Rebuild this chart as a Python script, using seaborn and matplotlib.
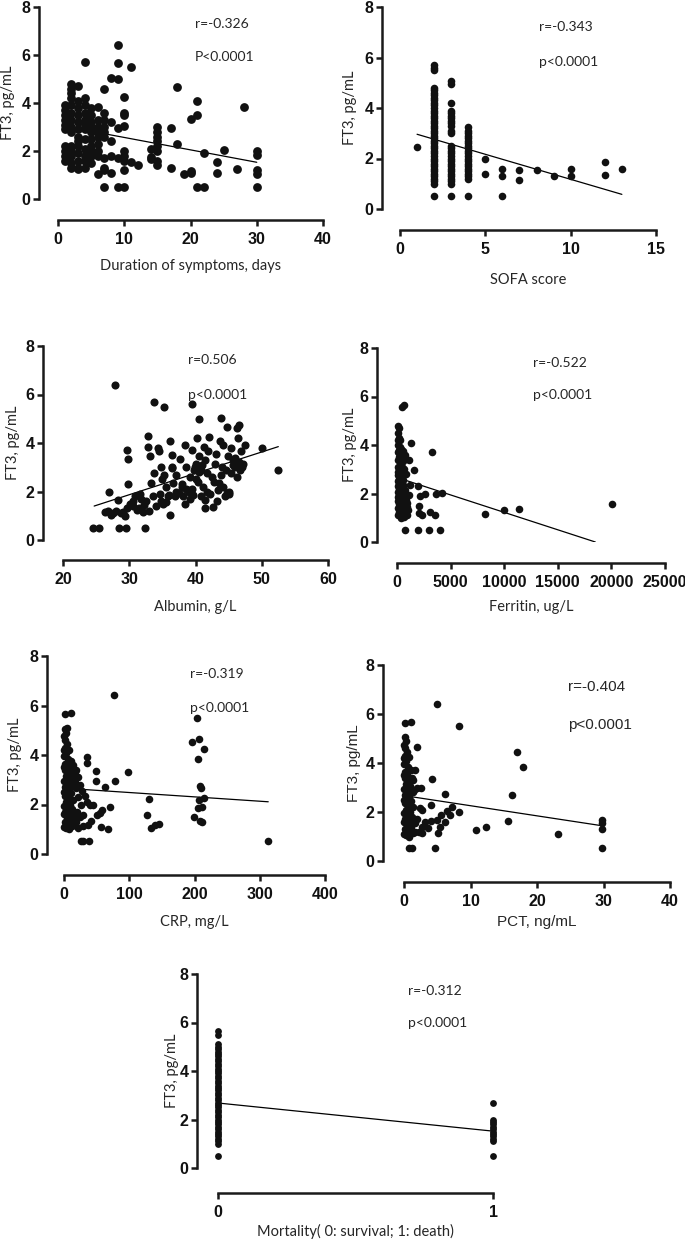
import matplotlib.pyplot as plt
import seaborn as sns

sns.set_style('ticks')
plt.rcParams['font.family'] = ['Lato', 'DejaVu Sans']

# ---------------- data ----------------
# Duration of symptoms (days) -> FT3 values at each day
dur_days = [1, 2, 3, 4, 5, 6, 7, 8, 9, 10, 11, 12, 14, 15, 17, 18, 19, 20, 21, 22, 24, 25, 27, 28, 30]
dur_ft3 = [
    [3.9, 3.7, 3.5, 3.3, 3.1, 2.9, 2.2, 2.0, 1.8, 1.6],
    [4.8, 4.6, 4.4, 4.2, 3.9, 3.6, 3.3, 3.0, 2.8, 2.2, 2.0, 1.8, 1.5, 1.3],
    [4.7, 4.1, 3.8, 3.5, 3.2, 2.9, 2.6, 2.4, 2.2, 1.9, 1.6, 1.3, 1.25],
    [5.7, 4.2, 3.9, 3.6, 3.3, 3.1, 2.9, 2.5, 2.1, 1.8, 1.6, 1.3],
    [3.8, 3.5, 3.2, 3.0, 2.8, 2.5, 2.2, 2.0, 1.8, 1.5],
    [3.85, 3.3, 3.0, 2.8, 2.6, 2.3, 2.0, 1.8, 1.05],
    [4.6, 3.6, 3.3, 3.0, 2.8, 2.6, 1.7, 1.3, 1.2, 0.5],
    [5.05, 3.2, 2.4, 1.8, 1.1],
    [6.4, 5.65, 5.0, 2.95, 1.7, 0.5],
    [4.25, 3.6, 3.5, 3.05, 2.0, 1.8, 1.6, 1.2, 0.5],
    [5.5, 1.55],
    [1.4],
    [2.1, 1.75, 1.65],
    [3.0, 2.8, 2.6, 2.4, 2.2, 2.0, 1.6, 1.4],
    [2.95, 1.3],
    [4.65, 2.3],
    [1.05],
    [3.35, 1.15, 1.1],
    [4.1, 3.5, 0.5],
    [1.9, 0.5],
    [1.55, 1.1],
    [2.05],
    [1.25],
    [3.85],
    [2.0, 1.85, 1.2, 1.05, 0.5],
]
dur_fit_x = [1, 30]
dur_fit_y = [3.03, 1.53]

# SOFA score -> FT3 values at each score
sofa_scores = [1, 2, 3, 4, 5, 6, 7, 8, 9, 10, 12, 13]
sofa_ft3 = [
    [2.45],
    [5.7, 5.6, 5.5, 4.8, 4.7, 4.6, 4.5, 4.4, 4.3, 4.2, 4.1, 4.0, 3.9, 3.8, 3.7, 3.6, 3.5, 3.4, 3.3,
     3.2, 3.1, 3.0, 2.9, 2.8, 2.7, 2.6, 2.5, 2.4, 2.3, 2.2, 2.1, 2.0, 1.9, 1.8, 1.7, 1.6, 1.5,
     1.4, 1.3, 1.2, 1.1, 1.0, 0.5],
    [5.05, 4.95, 4.2, 3.9, 3.8, 3.7, 3.6, 3.5, 3.4, 3.3, 3.1, 3.0, 2.5, 2.4, 2.3, 2.2, 2.1, 2.0,
     1.9, 1.8, 1.7, 1.6, 1.5, 1.4, 1.3, 1.2, 1.1, 1.0, 0.5],
    [3.25, 3.1, 3.0, 2.9, 2.8, 2.7, 2.6, 2.5, 2.4, 2.3, 2.2, 2.1, 2.0, 1.9, 1.8, 1.7, 1.6, 1.5,
     1.4, 1.3, 1.2, 0.5],
    [2.0, 1.4],
    [1.6, 1.3, 0.5],
    [1.55, 1.15],
    [1.55],
    [1.3],
    [1.6, 1.3],
    [1.85, 1.35],
    [1.6],
]
sofa_fit_x = [1, 13]
sofa_fit_y = [2.96, 0.58]

# Albumin (g/L) vs FT3
alb_x = [24.5, 25.5, 27.0, 27.8, 26.3, 26.8, 27.5, 28.3, 28.5, 29.5, 29.7, 29.8, 29.8, 29.0, 30.1,
         30.6, 31.1, 31.6, 32.1, 32.4, 32.6, 32.8, 32.9, 33.1, 33.3, 33.6, 33.8, 33.8, 34.1, 34.3,
         34.5, 34.6, 34.8, 35.1, 35.3, 35.3, 35.6, 35.8, 36.1, 36.2, 36.4, 36.4, 36.6, 36.9, 37.1,
         37.6, 37.9, 38.1, 38.4, 38.4, 38.6, 38.9, 39.1, 39.4, 39.4, 39.6, 39.9, 40.1, 40.2, 40.4,
         40.5, 40.6, 40.8, 40.9, 41.1, 41.3, 41.4, 41.5, 41.7, 41.9, 42.1, 42.2, 42.5, 42.6, 42.9,
         43.1, 43.4, 43.5, 43.7, 43.9, 44.0, 44.2, 44.4, 44.7, 44.9, 45.1, 45.3, 45.4, 45.7, 45.9,
         46.2, 46.4, 46.6, 46.7, 46.9, 47.2, 47.4, 50.1, 52.5,
         39.0, 39.5, 40.0, 40.5, 41.0, 41.5, 40.2, 39.8, 38.5, 37.5, 37.0, 38.0, 39.2, 41.8, 42.8,
         43.8, 44.6, 45.6, 46.3, 44.2, 45.0, 46.0, 47.0, 46.5, 43.2, 44.8, 30.5, 31.5, 28.8, 29.4,
         27.2, 28.0, 31.8, 32.2, 33.0, 34.8, 35.6, 36.0, 35.0, 36.5, 30.8, 29.6]
alb_ft3 = [0.5, 0.5, 2.0, 6.4, 1.15, 1.2, 1.1, 1.65, 0.5, 0.5, 3.7, 3.35, 2.3, 1.15, 1.5,
           1.4, 1.25, 1.9, 1.15, 0.5, 1.6, 3.85, 4.3, 3.45, 2.35, 1.8, 2.75, 5.7, 1.4, 3.8,
           3.65, 1.9, 3.0, 1.5, 5.5, 2.7, 2.2, 1.8, 1.05, 4.1, 3.0, 3.5, 2.35, 1.8, 2.7,
           3.35, 2.2, 1.8, 3.9, 1.5, 3.0, 2.05, 2.6, 5.6, 3.7, 1.85, 3.0, 3.15, 4.2, 2.4,
           5.0, 3.45, 1.8, 2.9, 2.2, 3.85, 1.65, 1.3, 2.75, 3.65, 4.25, 1.9, 2.6, 1.35, 3.15,
           3.55, 2.05, 2.35, 4.1, 5.05, 3.0, 3.9, 1.8, 4.65, 3.45, 1.9, 2.75, 3.8, 3.3, 3.0,
           4.6, 4.2, 4.75, 2.9, 3.65, 3.15, 3.9, 3.8, 2.9,
           2.0, 2.1, 2.5, 2.8, 3.1, 3.3, 3.0, 2.9, 2.1, 1.95, 2.0, 2.3, 1.7, 2.0, 2.4,
           2.7, 2.9, 3.1, 2.6, 2.2, 2.0, 3.4, 3.0, 3.2, 1.6, 1.95, 1.6, 1.3, 1.1, 1.0,
           1.05, 1.2, 1.7, 1.45, 1.2, 1.6, 1.55, 1.85, 2.5, 2.95, 1.8, 1.3]
alb_fit_x = [24.7, 52.5]
alb_fit_y = [1.40, 3.85]

# Ferritin (ug/L) vs FT3
fer_x = [80, 150, 60, 200, 120, 300, 90, 250, 400, 150, 550, 60, 320, 700, 180, 450, 100, 600, 250,
         380, 80, 500, 200, 650, 130, 350, 800, 60, 270, 480, 170, 600, 90, 330, 220, 520, 60, 400,
         140, 700, 280, 90, 460, 200, 620, 120, 350, 800, 60, 260, 520, 160, 420, 700, 90, 300, 600,
         200, 450, 850, 120, 650, 350, 950, 1000, 900,
         470, 620, 1300, 1550, 3260, 1150, 1240, 1925, 2020, 2170, 2640, 2080, 2330, 3100, 3570,
         3660, 4190, 780, 1925, 2950, 3975, 8170, 10000, 11400, 20030, 930, 1090]
fer_ft3 = [4.8, 4.7, 4.5, 4.3, 4.2, 4.2, 4.0, 3.9, 3.85, 3.8, 3.75, 3.7, 3.6, 3.6, 3.5, 3.45, 3.4,
           3.35, 3.3, 3.2, 3.1, 3.1, 3.0, 3.0, 2.9, 2.85, 2.8, 2.75, 2.7, 2.65, 2.6, 2.55, 2.5,
           2.45, 2.4, 2.35, 2.3, 2.25, 2.2, 2.15, 2.1, 2.05, 2.0, 1.95, 1.9, 1.85, 1.8, 1.75, 1.7,
           1.65, 1.6, 1.55, 1.5, 1.45, 1.4, 1.35, 1.3, 1.25, 1.2, 1.15, 1.1, 1.05, 1.0, 1.1, 1.3,
           1.45,
           5.55, 5.65, 4.1, 2.95, 3.7, 3.4, 2.35, 2.3, 1.5, 1.9, 2.0, 1.2, 1.1, 1.25, 1.1,
           2.0, 2.03, 0.5, 0.5, 0.5, 0.5, 1.15, 1.3, 1.35, 1.55, 1.6, 1.95]
fer_fit_x = [0, 18500]
fer_fit_y = [2.66, 0.0]

# CRP (mg/L) vs FT3
crp_x = [1, 3, 0.5, 2, 5, 1, 8, 3, 0.5, 6, 10, 2, 4, 12, 1, 7, 15, 3, 9, 0.5, 5, 13, 2, 8, 4, 11,
         1, 6, 14, 3, 9, 0.5, 5, 12, 2, 7, 16, 4, 10, 1, 6, 13, 3, 8, 18, 20, 22, 17, 19, 21, 24,
         26, 0.5, 0.5, 0.5, 0.5, 0.5,
         1.5, 10.7, 4, 77, 97.6, 78, 63, 70.5, 67, 57, 130, 127, 134, 139.5, 145.6, 195.6, 204,
         207.4, 206, 214.6, 208.4, 210, 207.4, 215, 211, 206, 199.7, 208, 211.5, 313, 26, 29.6,
         38.8, 36, 35, 49, 49, 45, 51, 55, 57.7, 40, 35, 32, 29.6, 29.6, 37, 42, 22, 18, 24.5,
         27, 14, 17, 19]
crp_ft3 = [5.05, 4.9, 4.75, 4.6, 4.45, 4.3, 4.2, 4.1, 3.95, 3.85, 3.75, 3.65, 3.55, 3.5, 3.4, 3.3,
           3.25, 3.15, 3.05, 2.95, 2.85, 2.8, 2.7, 2.6, 2.5, 2.45, 2.35, 2.25, 2.2, 2.1, 2.0,
           1.95, 1.85, 1.8, 1.7, 1.6, 1.55, 1.45, 1.4, 1.3, 1.2, 1.15, 1.05, 1.0, 1.3, 1.7, 2.3,
           2.9, 3.4, 1.05, 1.5, 2.0, 1.6, 2.5, 3.5, 4.2, 1.1,
           5.66, 5.68, 5.08, 6.42, 3.3, 2.96, 2.69, 1.9, 1.03, 1.1, 2.22, 1.56, 1.05, 1.18, 1.22,
           4.54, 5.5, 4.63, 3.83, 4.25, 2.73, 2.66, 2.19, 2.26, 1.88, 1.85, 1.49, 1.34, 1.29,
           0.51, 0.51, 0.51, 0.51, 3.9, 3.67, 3.36, 2.96, 2.0, 1.58, 1.65, 1.78, 2.0, 2.12,
           2.33, 1.59, 1.12, 1.18, 1.34, 3.13, 2.66, 2.8, 2.53, 3.6, 3.33, 3.06]
crp_fit_x = [0, 313]
crp_fit_y = [2.66, 2.11]

# PCT (ng/mL) vs FT3
pct_x = [0.1, 0.3, 0.05, 0.2, 0.5, 0.1, 0.8, 0.3, 0.05, 0.6, 1.0, 0.2, 0.4, 1.2, 0.1, 0.7, 1.4,
         0.3, 0.9, 0.05, 0.5, 1.3, 0.2, 0.8, 0.4, 1.1, 0.1, 0.6, 1.4, 0.3, 0.9, 0.05, 0.5, 1.2,
         0.2, 0.7, 1.6, 0.4, 1.0, 0.1, 0.6, 1.3, 0.3, 0.8, 0.05, 0.05, 0.05, 0.05, 0.05, 1.6, 1.5,
         0.15, 1.0, 4.9, 8.3, 2.0, 1.65, 4.15, 1.9, 2.55, 6.15, 4.0, 2.4, 2.65, 6.4, 7.2, 8.2,
         5.55, 6.9, 6.15, 4.9, 4.05, 3.15, 1.9, 2.65, 3.65, 5.4, 5.05, 2.3, 2.65, 10.9, 12.4,
         15.6, 17.0, 17.9, 16.2, 23.2, 29.7, 29.8, 29.8, 29.8, 0.75, 1.15, 4.65]
pct_ft3 = [5.05, 4.9, 4.75, 4.6, 4.45, 4.3, 4.25, 4.1, 3.95, 3.85, 3.7, 3.65, 3.55, 3.4, 3.4, 3.3,
           3.3, 3.15, 3.05, 2.95, 2.85, 2.8, 2.7, 2.6, 2.5, 2.45, 2.35, 2.25, 2.2, 2.1, 2.0,
           1.95, 1.85, 1.8, 1.7, 1.6, 1.55, 1.45, 1.4, 1.3, 1.2, 1.15, 1.05, 1.0, 1.1, 1.6, 2.5,
           3.5, 4.2, 1.2, 2.9,
           5.65, 5.69, 6.4, 5.5, 4.67, 3.7, 3.33, 2.97, 2.97, 2.72, 2.29, 2.15, 2.08, 2.05, 2.22,
           2.01, 1.88, 1.88, 1.6, 1.67, 1.65, 1.58, 1.71, 1.4, 1.33, 1.4, 1.13, 1.2, 1.13, 1.27,
           1.37, 1.63, 4.44, 3.85, 2.69, 1.09, 1.67, 1.54, 1.29, 0.54, 0.54, 0.54, 0.54]
pct_fit_x = [0, 30]
pct_fit_y = [2.67, 1.43]

# Mortality (0 survival, 1 death) vs FT3
mort_groups = [0, 1]
mort_ft3 = [
    [0.5, 1.0, 1.1, 1.2, 1.3, 1.4, 1.5, 1.6, 1.7, 1.8, 1.9, 2.0, 2.1, 2.2, 2.3, 2.4, 2.5, 2.6, 2.7,
     2.8, 2.9, 3.0, 3.1, 3.2, 3.3, 3.4, 3.5, 3.6, 3.7, 3.8, 3.9, 4.0, 4.1, 4.2, 4.3, 4.4, 4.5,
     4.6, 4.7, 4.8, 4.9, 5.0, 5.1, 5.5, 5.65],
    [2.7, 2.0, 1.9, 1.8, 1.7, 1.6, 1.5, 1.4, 1.3, 1.2, 1.1, 0.5],
]
mort_fit_x = [0, 1]
mort_fit_y = [2.68, 1.52]

r_texts = ['r=-0.326', 'r=-0.343', 'r=0.506', 'r=-0.522', 'r=-0.319', 'r=-0.404', 'r=-0.312']
p_texts = ['P<0.0001', 'p<0.0001', 'p<0.0001', 'p<0.0001', 'p<0.0001', 'p<0.0001', 'p<0.0001']
x_labels = ['Duration of symptoms, days', 'SOFA score', 'Albumin, g/L', 'Ferritin, ug/L',
            'CRP, mg/L', 'PCT, ng/mL', 'Mortality( 0: survival; 1: death)']
y_label = 'FT3, pg/mL'


def expand(keys, groups):
    xs, ys = [], []
    for k, vals in zip(keys, groups):
        for v in vals:
            xs.append(k)
            ys.append(v)
    return xs, ys


dur_x, dur_y = expand(dur_days, dur_ft3)
sofa_x, sofa_y = expand(sofa_scores, sofa_ft3)
mort_x, mort_y = expand(mort_groups, mort_ft3)

# ---------------- layout (pixel geometry of each panel) ----------------
W, H = 685, 1248
fig = plt.figure(figsize=(W / 100, H / 100), dpi=100)

panels = [
    dict(x=dur_x, y=dur_y, fx=dur_fit_x, fy=dur_fit_y, xlim=(0, 40), xticks=[0, 10, 20, 30, 40],
         xpx=(58, 323), ypx=(7, 199), lsp=39, bsp=220, s=40, xl_top=259, yl_right=15, txt=(195, 24, 57)),
    dict(x=sofa_x, y=sofa_y, fx=sofa_fit_x, fy=sofa_fit_y, xlim=(0, 15), xticks=[0, 5, 10, 15],
         xpx=(400, 656), ypx=(7, 209), lsp=382, bsp=230, s=30, xl_top=273, yl_right=357, txt=(539, 27, 62)),
    dict(x=alb_x, y=alb_ft3, fx=alb_fit_x, fy=alb_fit_y, xlim=(20, 60), xticks=[20, 30, 40, 50, 60],
         xpx=(63, 328), ypx=(346, 540), lsp=43, bsp=560, s=34, xl_top=600, yl_right=20, txt=(188, 360, 395)),
    dict(x=fer_x, y=fer_ft3, fx=fer_fit_x, fy=fer_fit_y, xlim=(0, 25000),
         xticks=[0, 5000, 10000, 15000, 20000, 25000],
         xpx=(397, 665), ypx=(348, 542), lsp=377, bsp=563, s=30, xl_top=600, yl_right=357, txt=(533, 363, 395)),
    dict(x=crp_x, y=crp_ft3, fx=crp_fit_x, fy=crp_fit_y, xlim=(0, 400), xticks=[0, 100, 200, 300, 400],
         xpx=(64, 325), ypx=(656, 854), lsp=47, bsp=875, s=30, xl_top=915, yl_right=22, txt=(190, 674, 708)),
    dict(x=pct_x, y=pct_ft3, fx=pct_fit_x, fy=pct_fit_y, xlim=(0, 40), xticks=[0, 10, 20, 30, 40],
         xpx=(404, 670), ypx=(665, 861), lsp=383, bsp=882, s=30, xl_top=915, yl_right=361, txt=(568, 687, 725)),
    dict(x=mort_x, y=mort_y, fx=mort_fit_x, fy=mort_fit_y, xlim=(0, 1), xticks=[0, 1],
         xpx=(218, 493), ypx=(974, 1168), lsp=197, bsp=1193, s=24, xl_top=1224, yl_right=179, txt=(408, 991, 1023)),
]

for i, p in enumerate(panels):
    x0, x1 = p['xpx']
    ytop, ybot = p['ypx']
    ax = fig.add_axes([x0 / W, 1 - ybot / H, (x1 - x0) / W, (ybot - ytop) / H])

    sns.scatterplot(x=p['x'], y=p['y'], s=p['s'], color='#111111', linewidth=0,
                    clip_on=False, ax=ax, zorder=3)
    sns.lineplot(x=p['fx'], y=p['fy'], color='black', linewidth=0.9, ax=ax, zorder=2)

    ax.set_xlim(*p['xlim'])
    ax.set_ylim(0, 8)
    ax.set_xticks(p['xticks'])
    ax.set_yticks([0, 2, 4, 6, 8])

    sns.despine(ax=ax)
    ax.spines['left'].set_position(('outward', (x0 - p['lsp']) * 0.72))
    ax.spines['bottom'].set_position(('outward', (p['bsp'] - ybot) * 0.72))
    ax.spines['left'].set_bounds(0, 8)
    ax.spines['bottom'].set_bounds(*p['xlim'])
    for side in ['left', 'bottom']:
        ax.spines[side].set_linewidth(1.8)
        ax.spines[side].set_color('#1a1a1a')
    ax.tick_params(axis='both', direction='out', length=4.5, width=1.8, color='#1a1a1a',
                   labelcolor='#111111')
    ax.tick_params(axis='y', pad=1.5)
    ax.tick_params(axis='x', pad=4)

    if i == 5:
        lab_font = dict(family=['Liberation Sans', 'DejaVu Sans'], size=11)
        txt_font = dict(family=['Liberation Sans', 'DejaVu Sans'], size=11)
    else:
        lab_font = dict(family=['Lato', 'DejaVu Sans'], size=10.5)
        txt_font = dict(family=['Lato', 'DejaVu Sans'], size=10)

    ax.set_xlabel(x_labels[i], fontdict=lab_font)
    ax.set_ylabel(y_label, fontdict=lab_font)
    ax.xaxis.set_label_coords(0.5, (ybot - p['xl_top']) / (ybot - ytop))
    ax.yaxis.set_label_coords((p['yl_right'] - x0) / (x1 - x0), 0.5)

    # bold Arial-like tick numbers
    for lbl in ax.get_xticklabels() + ax.get_yticklabels():
        lbl.set_family(['Liberation Sans', 'DejaVu Sans'])
        lbl.set_fontweight('bold')
        lbl.set_fontsize(11.5)

    tx, ry, py = p['txt']
    fig.text(tx / W, 1 - ry / H, r_texts[i], ha='left', va='center', fontdict=txt_font)
    fig.text(tx / W, 1 - py / H, p_texts[i], ha='left', va='center', fontdict=txt_font)

fig.savefig('out.png', dpi=100, facecolor='white')
